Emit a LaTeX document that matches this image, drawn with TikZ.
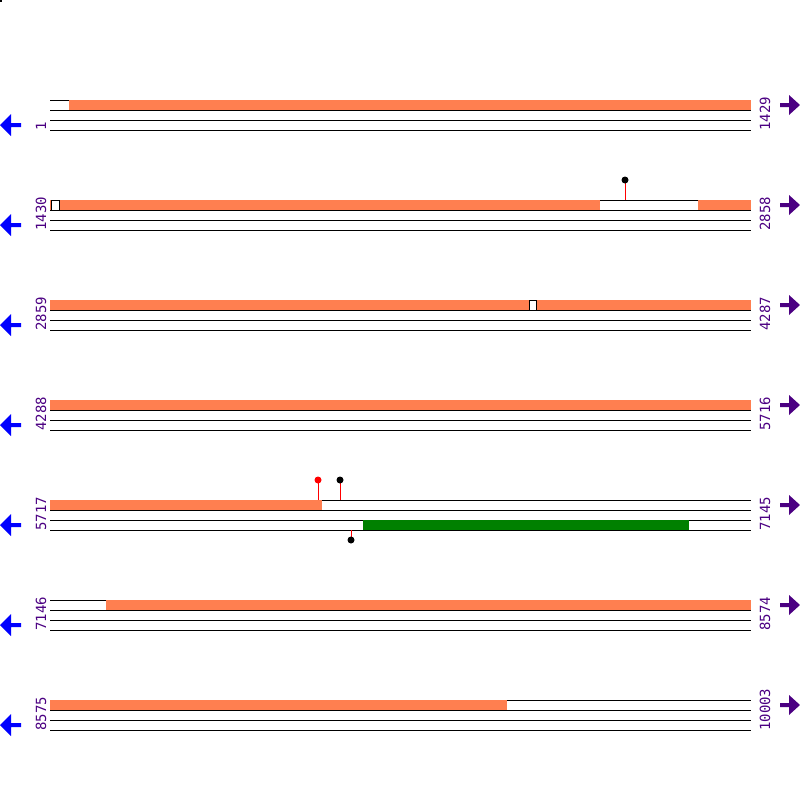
\documentclass[tikz,border=0pt]{standalone}
\usepackage{fontspec}
\newfontfamily\labfont{DejaVu Sans Mono}
\definecolor{feat}{HTML}{FF7F50}
\definecolor{cds}{HTML}{008000}
\definecolor{lab}{HTML}{4B0082}
\definecolor{larr}{HTML}{0000FF}
\tikzset{
  strand/.style={draw=black, line width=1pt},
  featbox/.style={fill=feat},
  gapbox/.style={fill=white, draw=black, line width=1pt},
  cdsbox/.style={fill=cds},
  poslab/.style={rotate=90, anchor=west, inner sep=0pt, text=lab, font=\labfont\fontsize{14}{14}\selectfont},
  stem/.style={draw=red, line width=1pt},
}
\begin{document}
\begin{tikzpicture}[x=1pt,y=-1pt]
\useasboundingbox (0,0) rectangle (800,800);
\fill[black] (0,0) rectangle (2,2);
% strands and labels
\foreach \r/\a/\b [count=\i] in {100/1/1429,200/1430/2858,300/2859/4287,400/4288/5716,500/5717/7145,600/7146/8574,700/8575/10003}{
  \foreach \dy in {0,10,20,30}{\draw[strand] (50,\r+\dy) -- (751,\r+\dy);}
  \node[poslab] (l\i) at (41,\r+31) {\a};
  \node[poslab] (r\i) at (765,\r+31) {\b};
  \fill[larr] (0,\r+25) -- (11,\r+14) -- (11,\r+23) -- (21,\r+23) -- (21,\r+27) -- (11,\r+27) -- (11,\r+36) -- cycle;
  \fill[lab] (800,\r+5) -- (789,\r-5) -- (789,\r+3) -- (780,\r+3) -- (780,\r+7) -- (789,\r+7) -- (789,\r+15) -- cycle;
}
% row 1
\fill[featbox] (69,100) rectangle (751,110);
% row 2
\fill[featbox] (50,200) rectangle (600,210);
\fill[featbox] (698,200) rectangle (751,210);
\draw[gapbox] (51,200) rectangle (59,210);
\draw[stem] (625,200) -- (625,182);
\fill[black] (625,180) circle (3.5);
% row 3
\fill[featbox] (50,300) rectangle (751,310);
\draw[gapbox] (529,300) rectangle (536,310);
% row 4
\fill[featbox] (50,400) rectangle (751,410);
% row 5
\fill[featbox] (50,500) rectangle (322,510);
\fill[cdsbox] (363,520) rectangle (689,530);
\draw[stem] (318,500) -- (318,482);
\fill[red] (318,480) circle (3.5);
\draw[stem] (340,500) -- (340,482);
\fill[black] (340,480) circle (3.5);
\draw[stem] (351,530) -- (351,538);
\fill[black] (351,540) circle (3.5);
% row 6
\fill[featbox] (106,600) rectangle (751,610);
% row 7
\fill[featbox] (50,700) rectangle (507,710);
\end{tikzpicture}
\end{document}
